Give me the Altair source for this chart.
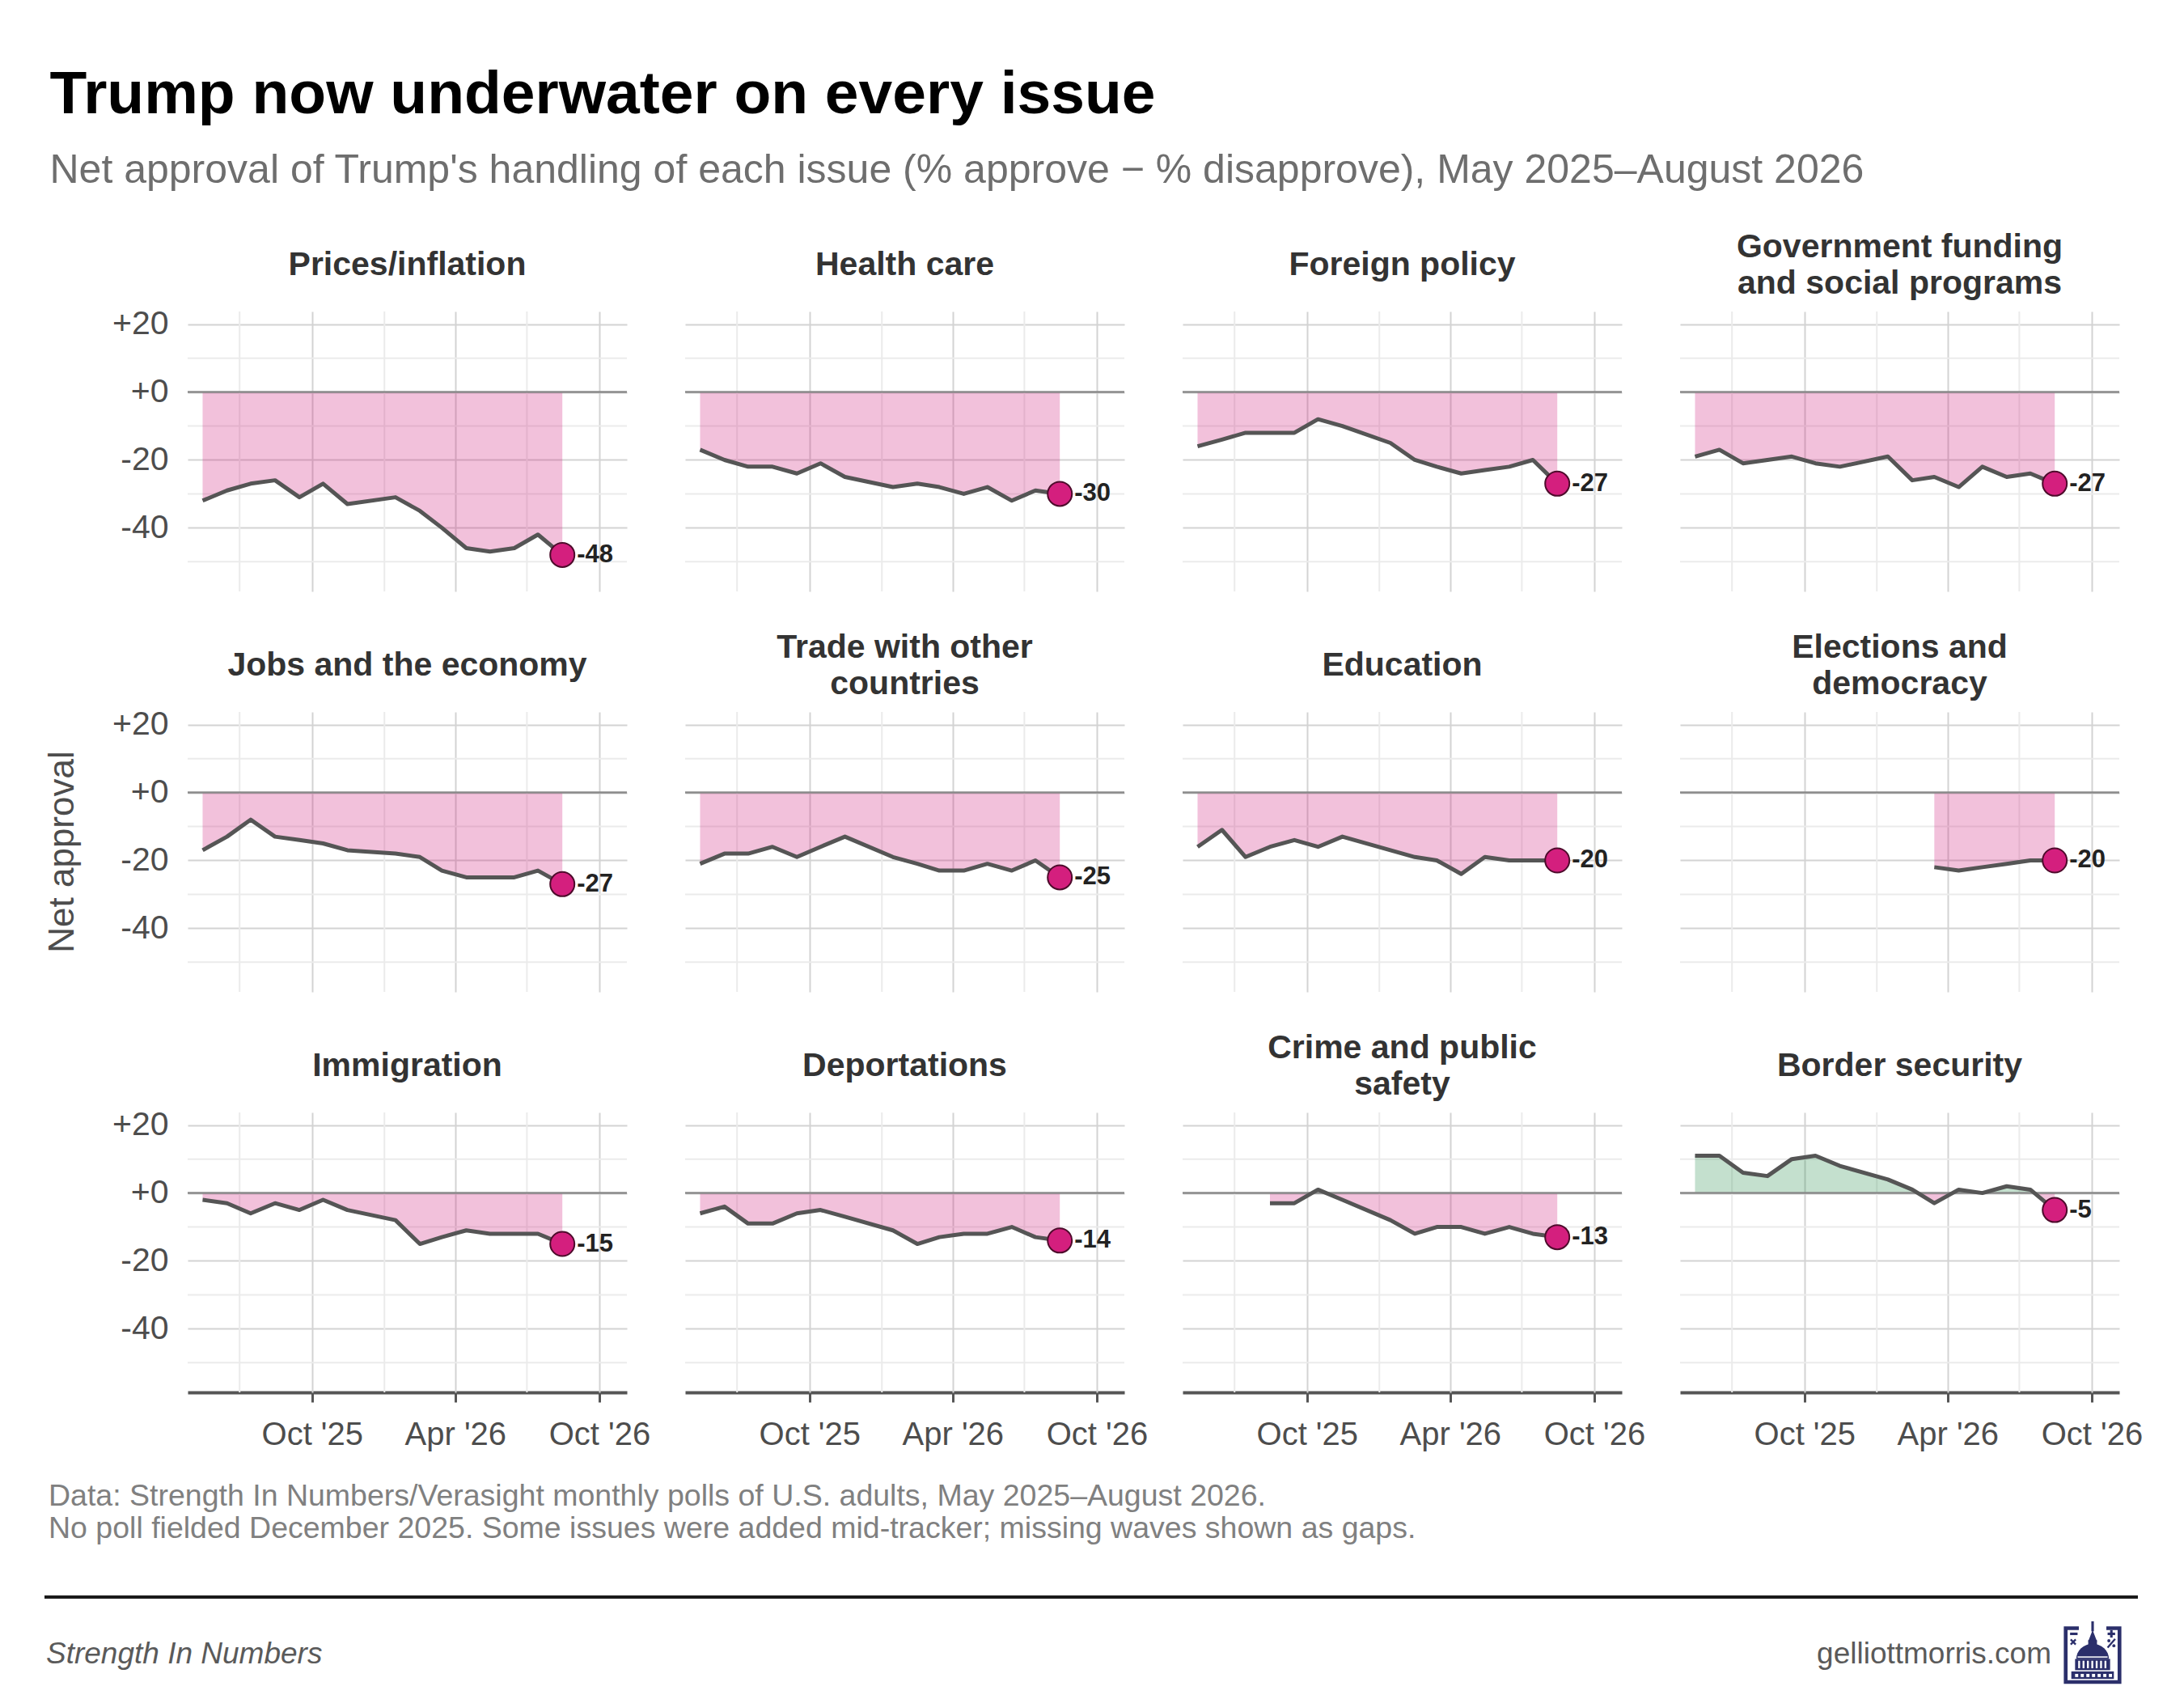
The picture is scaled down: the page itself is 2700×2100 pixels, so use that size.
import base64
import pandas as pd
import altair as alt

FONT = "Liberation Sans"

# ---------------- data ----------------
months = ["2025-05-15", "2025-06-15", "2025-07-15", "2025-08-15", "2025-09-15",
          "2025-10-15", "2025-11-15", "2026-01-15", "2026-02-15", "2026-03-15",
          "2026-04-15", "2026-05-15", "2026-06-15", "2026-07-15", "2026-08-15"]

issues = ["Prices/inflation", "Health care", "Foreign policy",
          "Government funding and social programs",
          "Jobs and the economy", "Trade with other countries", "Education",
          "Elections and democracy", "Immigration", "Deportations",
          "Crime and public safety", "Border security"]

panel_titles = ["Prices/inflation", "Health care", "Foreign policy",
                "Government funding\nand social programs",
                "Jobs and the economy", "Trade with other\ncountries", "Education",
                "Elections and\ndemocracy", "Immigration", "Deportations",
                "Crime and public\nsafety", "Border security"]

prices = [-32, -29, -27, -26, -31, -27, -33, -31, -35, -40, -46, -47, -46, -42, -48]
health = [-17, -20, -22, -22, -24, -21, -25, -28, -27, -28, -30, -28, -32, -29, -30]
foreign = [-16, -14, -12, -12, -12, -8, -10, -15, -20, -22, -24, -23, -22, -20, -27]
govt = [-19, -17, -21, -20, -19, -21, -22, -19, -26, -25, -28, -22, -25, -24, -27]
jobs = [-17, -13, -8, -13, -14, -15, -17, -18, -19, -23, -25, -25, -25, -23, -27]
trade = [-21, -18, -18, -16, -19, -16, -13, -19, -21, -23, -23, -21, -23, -20, -25]
education = [-16, -11, -19, -16, -14, -16, -13, -17, -19, -20, -24, -19, -20, -20, -20]
elections = [None, None, None, None, None, None, None, None, None, -22, -23, -22, -21, -20, -20]
immigration = [-2, -3, -6, -3, -5, -2, -5, -8, -15, -13, -11, -12, -12, -12, -15]
deportations = [-6, -4, -9, -9, -6, -5, -7, -11, -15, -13, -12, -12, -10, -13, -14]
crime = [None, None, None, -3, -3, 1, -2, -8, -12, -10, -10, -12, -10, -12, -13]
border = [11, 11, 6, 5, 10, 11, 8, 4, 1, -3, 1, 0, 2, 1, -5]

series = [prices, health, foreign, govt, jobs, trade, education, elections,
          immigration, deportations, crime, border]

major_x = [(2025, 10), (2026, 4), (2026, 10)]
minor_x = ["2025-07-01", "2026-01-01", "2026-07-01"]
major_y = [20, 0, -20, -40]
minor_y = [10, -10, -30, -50]

caption_lines = [
    "Data: Strength In Numbers/Verasight monthly polls of U.S. adults, May 2025\u2013August 2026.",
    "No poll fielded December 2025. Some issues were added mid-tracker; missing waves shown as gaps.",
]
title_text = "Trump now underwater on every issue"
subtitle_text = ("Net approval of Trump's handling of each issue "
                 "(% approve \u2212 % disapprove), May 2025\u2013August 2026")
brand_text = "Strength In Numbers"
site_text = "gelliottmorris.com"
ytitle_text = "Net approval"

# ---------------- small logo (capitol icon) ----------------
NAVY = "#2b2f6b"
logo_svg = (
    '<svg xmlns="http://www.w3.org/2000/svg" viewBox="0 0 100 106">'
    f'<g fill="{NAVY}">'
    '<path d="M4,8 H28 V14 H10 V94 H90 V14 H72 V8 H96 V100 H4 Z"/>'
    '<rect x="48" y="0" width="4" height="16"/>'
    '<path d="M43,32 L50,14 L57,32 Z"/>'
    '<rect x="43" y="30" width="14" height="10"/>'
    '<path d="M24,60 A26,24 0 0 1 76,60 Z"/>'
    '<rect x="22" y="60" width="56" height="18"/>'
    '<rect x="16" y="80" width="68" height="12"/>'
    '<rect x="14" y="18" width="12" height="4"/>'
    '<rect x="74" y="18" width="12" height="4"/>'
    '<rect x="78" y="14" width="4" height="12"/>'
    '<circle cx="76" cy="31" r="2.5"/><circle cx="84" cy="39" r="2.5"/>'
    '</g>'
    f'<path d="M15,29 L23,37 M23,29 L15,37 M86,28 L74,42" stroke="{NAVY}" stroke-width="3"/>'
    '<g fill="#ffffff">'
    '<rect x="27" y="63" width="3" height="12"/><rect x="34" y="63" width="3" height="12"/>'
    '<rect x="41" y="63" width="3" height="12"/><rect x="48" y="63" width="3" height="12"/>'
    '<rect x="55" y="63" width="3" height="12"/><rect x="62" y="63" width="3" height="12"/>'
    '<rect x="69" y="63" width="3" height="12"/>'
    '<rect x="22" y="84" width="5" height="5"/><rect x="31" y="84" width="5" height="5"/>'
    '<rect x="40" y="84" width="5" height="5"/><rect x="49" y="84" width="5" height="5"/>'
    '<rect x="58" y="84" width="5" height="5"/><rect x="67" y="84" width="5" height="5"/>'
    '<rect x="76" y="84" width="5" height="5"/>'
    '<rect x="26" y="56" width="48" height="2"/>'
    '</g></svg>'
)
logo_uri = "data:image/svg+xml;base64," + base64.b64encode(logo_svg.encode()).decode()

# ---------------- build the long table ----------------
rows = []
for issue, ptitle, vals in zip(issues, panel_titles, series):
    pts = [(pd.Timestamp(m), v) for m, v in zip(months, vals) if v is not None]
    for t, v in pts:
        rows.append(dict(issue=issue, kind="obs", date=t.isoformat(), value=v))
    # area outline with exact zero crossings so the fill changes colour at 0
    area = []
    for i, (t, v) in enumerate(pts):
        if i > 0:
            t0, v0 = pts[i - 1]
            if v0 * v < 0:
                tc = (t0 + (t - t0) * (v0 / (v0 - v))).round("s")
                area.append((tc, 0))
        area.append((t, v))
    for t, v in area:
        rows.append(dict(issue=issue, kind="area", date=t.isoformat(),
                         pos=max(v, 0), neg=min(v, 0), base=0))
    tl, vl = pts[-1]
    rows.append(dict(issue=issue, kind="last", date=tl.isoformat(), value=vl, label=str(vl)))
    kind_t = "title2" if "\n" in ptitle else "title1"
    rows.append(dict(issue=issue, kind=kind_t, title=ptitle))
    for d in minor_x:
        rows.append(dict(issue=issue, kind="vgrid", date=pd.Timestamp(d).isoformat()))
    for y in minor_y:
        rows.append(dict(issue=issue, kind="hgrid", value=y))
    rows.append(dict(issue=issue, kind="zero", value=0))

rows.append(dict(issue="Jobs and the economy", kind="ytitle", title=ytitle_text))
rows.append(dict(issue="Immigration", kind="caption", title="\n".join(caption_lines)))
rows.append(dict(issue="Immigration", kind="brand", title=brand_text))
rows.append(dict(issue="Immigration", kind="site", title=site_text))
rows.append(dict(issue="Immigration", kind="logo", url=logo_uri))
rows.append(dict(issue="Immigration", kind="footrule"))
df = pd.DataFrame(rows)

# ---------------- scales / axes ----------------
PW, PH = 543, 346
x_scale = alt.Scale(domain=[alt.DateTime(year=2025, month=4, date=26),
                            alt.DateTime(year=2026, month=11, date=5)])
y_scale = alt.Scale(domain=[-58.75, 23.75], nice=False, zero=False)

x_axis = alt.Axis(
    values=[alt.DateTime(year=y, month=m, date=1) for y, m in major_x],
    format="%b '%y", title=None, labelFontSize=40, labelColor="#4d4d4d",
    labelFont=FONT, labelPadding=20, labelOverlap=False,
    tickSize=12, tickWidth=3, tickColor="#555555",
    domainColor="#555555", domainWidth=4,
    gridColor="#d3d3d3", gridWidth=2)
y_axis = alt.Axis(
    values=major_y, title=None,
    labelExpr="datum.value > 0 ? '+' + datum.value : (datum.value == 0 ? '+0' : '-' + abs(datum.value))",
    labelFontSize=41, labelColor="#4d4d4d", labelFont=FONT, labelPadding=24,
    ticks=False, tickSize=0, domain=False,
    gridColor="#d3d3d3", gridWidth=2)


def only(k):
    return f"datum.kind == '{k}'"


def X():
    return alt.X("date:T", scale=x_scale, axis=x_axis)


def Y(field):
    return alt.Y(field, scale=y_scale, axis=y_axis)


base = alt.Chart()

vgrid = base.mark_rule(color="#ebebeb", strokeWidth=2).encode(
    x=X()).transform_filter(only("vgrid"))
hgrid = base.mark_rule(color="#ebebeb", strokeWidth=2).encode(
    y=Y("value:Q")).transform_filter(only("hgrid"))
area_pos = base.mark_area(color="#2a8f4f", opacity=0.28).encode(
    x=X(), y=Y("pos:Q"), y2="base:Q").transform_filter(only("area"))
area_neg = base.mark_area(color="#cf1f7d", opacity=0.28).encode(
    x=X(), y=Y("neg:Q"), y2="base:Q").transform_filter(only("area"))
zero = base.mark_rule(color="#8a8a8a", strokeWidth=2.5).encode(
    y=Y("value:Q")).transform_filter(only("zero"))
line = base.mark_line(color="#555555", strokeWidth=5, strokeJoin="round").encode(
    x=X(), y=Y("value:Q")).transform_filter(only("obs"))
point = base.mark_circle(size=900, color="#d41f7e", opacity=1, stroke="#4d0b2b",
                         strokeWidth=2).encode(
    x=X(), y=Y("value:Q")).transform_filter(only("last"))
label = base.mark_text(align="left", baseline="middle", dx=18, fontSize=31,
                       fontWeight="bold", color="#222222", font=FONT).encode(
    x=X(), y=Y("value:Q"), text="label:N").transform_filter(only("last"))
ptitle1 = base.mark_text(align="center", baseline="middle", fontSize=41, fontWeight="bold",
                         color="#333333", font=FONT).encode(
    x=alt.value(PW / 2), y=alt.value(-57), text="title:N").transform_filter(only("title1"))
ptitle2 = base.mark_text(align="center", baseline="middle", fontSize=41, fontWeight="bold",
                         color="#333333", font=FONT, lineBreak="\n", lineHeight=45).encode(
    x=alt.value(PW / 2), y=alt.value(-79), text="title:N").transform_filter(only("title2"))
ytitle = base.mark_text(angle=270, align="center", baseline="middle", fontSize=44,
                        color="#4d4d4d", font=FONT).encode(
    x=alt.value(-154), y=alt.value(PH / 2), text="title:N").transform_filter(only("ytitle"))

# footer pieces, drawn from the bottom-left panel
caption = base.mark_text(align="left", baseline="alphabetic", fontSize=37.5, color="#808080",
                         font=FONT, lineBreak="\n", lineHeight=40).encode(
    x=alt.value(-172), y=alt.value(486), text="title:N").transform_filter(only("caption"))
footrule = base.mark_rule(color="#1a1a1a", strokeWidth=4).encode(
    x=alt.value(-177), x2=alt.value(2411), y=alt.value(599)).transform_filter(only("footrule"))
brand = base.mark_text(align="left", baseline="alphabetic", fontSize=37, fontStyle="italic",
                       color="#5a5a5a", font=FONT).encode(
    x=alt.value(-175), y=alt.value(681), text="title:N").transform_filter(only("brand"))
site = base.mark_text(align="right", baseline="alphabetic", fontSize=37,
                      color="#5a5a5a", font=FONT).encode(
    x=alt.value(2304), y=alt.value(681), text="title:N").transform_filter(only("site"))
logo = base.mark_image(width=78, height=82).encode(
    x=alt.value(2355), y=alt.value(670), url="url:N").transform_filter(only("logo"))

layered = alt.layer(vgrid, hgrid, area_pos, area_neg, zero, line, point, label,
                    ptitle1, ptitle2, ytitle, caption, footrule, brand, site, logo,
                    data=df).properties(width=PW, height=PH)

chart = layered.facet(
    facet=alt.Facet("issue:N", sort=issues,
                    header=alt.Header(labelExpr="''", labelFontSize=0, labelPadding=0),
                    title=None),
    columns=4,
    spacing={"row": 149, "column": 72},
    bounds="flush",
).properties(
    title=alt.TitleParams(
        text=title_text, subtitle=subtitle_text, anchor="start", frame="bounds", dx=9,
        font=FONT, fontSize=75, fontWeight="bold", color="#000000",
        subtitleFont=FONT, subtitleFontSize=50, subtitleColor="#6e6e6e",
        subtitlePadding=30, offset=48),
    padding={"left": 44, "top": 71, "right": 20, "bottom": 10},
).configure(font=FONT).configure_view(stroke="transparent")

chart.save("out.html", embed_options={"renderer": "svg", "actions": False})
